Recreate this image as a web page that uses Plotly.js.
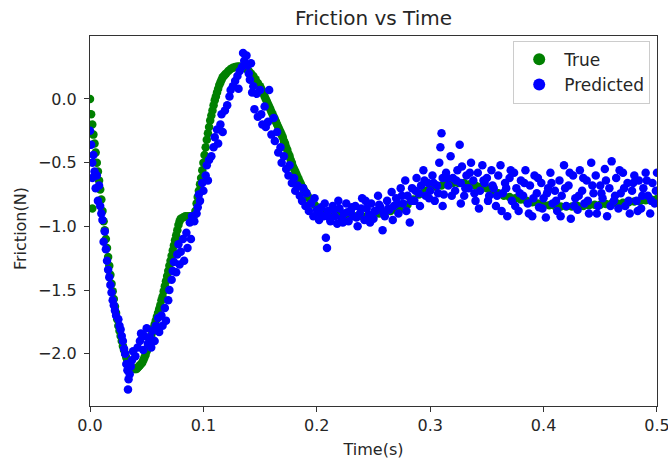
<!DOCTYPE html>
<html>
<head>
<meta charset="utf-8">
<script src="https://cdn.plot.ly/plotly-3.0.1.min.js"></script>
<style>
html,body{margin:0;padding:0;background:#fff;}
#chart{width:668px;height:462px;}
</style>
</head>
<body>
<div id="chart"></div>
<script>
// True friction series
const trueTime = [
0.000,0.001,0.002,0.002,0.003,0.004,0.005,0.006,0.007,0.008,0.009,0.010,0.011,0.012,0.013,0.014,0.015,0.016,0.017,0.018,0.019,
0.020,0.021,0.022,0.023,0.024,0.025,0.026,0.027,0.028,0.029,0.030,0.031,0.032,0.033,0.034,0.035,0.036,0.037,0.038,0.039,
0.040,0.041,0.042,0.043,0.044,0.045,0.046,0.047,0.048,0.049,0.050,0.051,0.052,0.053,0.054,0.055,0.056,0.057,0.058,0.059,
0.060,0.061,0.062,0.063,0.064,0.065,0.066,0.067,0.068,0.069,0.070,0.071,0.072,0.073,0.074,0.075,0.076,0.077,0.078,0.079,
0.080,0.082,0.084,0.086,0.088,0.090,0.092,0.093,0.094,0.095,0.096,0.097,0.098,0.099,
0.100,0.101,0.102,0.103,0.104,0.105,0.106,0.107,0.108,0.109,0.110,0.111,0.112,0.113,0.114,0.115,0.116,0.117,0.118,0.119,
0.120,0.122,0.124,0.126,0.128,0.130,0.132,0.134,0.136,0.138,0.140,0.142,0.144,0.146,0.148,
0.150,0.151,0.152,0.153,0.154,0.155,0.156,0.157,0.158,0.159,0.160,0.161,0.162,0.163,0.164,0.165,0.166,0.167,0.168,0.169,
0.170,0.171,0.172,0.173,0.174,0.175,0.176,0.177,0.178,0.179,0.180,0.181,0.182,0.183,0.184,0.185,0.186,0.187,0.188,0.189,
0.190,0.192,0.194,0.196,0.198,0.200,0.202,0.204,
0.205,0.210,0.215,0.220,0.225,0.230,0.235,0.240,0.245,0.250,0.255,0.260,0.265,0.270,0.275,0.280,0.285,0.290,0.295,
0.300,0.305,0.310,0.315,0.320,0.325,0.330,0.335,0.340,0.345,0.350,0.355,0.360,0.365,0.370,0.375,0.380,0.385,0.390,0.395,
0.400,0.405,0.410,0.415,0.420,0.425,0.430,0.435,0.440,0.445,0.450,0.455,0.460,0.465,0.470,0.475,0.480,0.485,0.490,0.495,0.500
];
const trueFriction = [
0.00,-0.12,-0.86,-0.20,-0.28,-0.35,-0.42,-0.50,-0.57,-0.64,-0.71,-0.79,-0.88,-0.96,-1.03,-1.10,-1.17,-1.24,-1.31,-1.38,-1.45,
-1.51,-1.57,-1.63,-1.68,-1.73,-1.78,-1.82,-1.86,-1.90,-1.94,-1.97,-2.00,-2.03,-2.05,-2.07,-2.09,-2.10,-2.11,-2.12,-2.12,
-2.12,-2.12,-2.11,-2.10,-2.09,-2.08,-2.07,-2.05,-2.03,-2.01,-1.98,-1.95,-1.92,-1.89,-1.86,-1.83,-1.80,-1.77,-1.74,-1.71,
-1.68,-1.65,-1.62,-1.58,-1.55,-1.51,-1.47,-1.43,-1.39,-1.35,-1.31,-1.27,-1.23,-1.19,-1.15,-1.11,-1.07,-1.03,-0.99,-0.96,
-0.94,-0.93,-0.92,-0.92,-0.92,-0.92,-0.91,-0.88,-0.82,-0.77,-0.72,-0.67,-0.62,-0.56,
-0.50,-0.44,-0.38,-0.32,-0.27,-0.22,-0.17,-0.13,-0.09,-0.05,-0.01,0.02,0.05,0.08,0.11,0.13,0.15,0.17,0.18,0.19,
0.20,0.22,0.235,0.245,0.25,0.255,0.255,0.25,0.245,0.235,0.22,0.20,0.18,0.155,0.125,
0.10,0.08,0.06,0.04,0.02,0.00,-0.02,-0.04,-0.06,-0.08,-0.10,-0.12,-0.14,-0.16,-0.18,-0.20,-0.22,-0.24,-0.26,-0.28,
-0.30,-0.33,-0.35,-0.38,-0.40,-0.43,-0.45,-0.48,-0.50,-0.53,-0.55,-0.57,-0.59,-0.61,-0.63,-0.65,-0.67,-0.69,-0.70,-0.72,
-0.73,-0.76,-0.79,-0.81,-0.83,-0.85,-0.86,-0.87,
-0.88,-0.89,-0.90,-0.91,-0.915,-0.92,-0.92,-0.92,-0.915,-0.91,-0.90,-0.89,-0.88,-0.87,-0.86,-0.83,-0.79,-0.75,-0.72,
-0.70,-0.69,-0.68,-0.67,-0.66,-0.66,-0.66,-0.67,-0.68,-0.69,-0.70,-0.72,-0.74,-0.76,-0.77,-0.78,-0.79,-0.80,-0.81,-0.82,
-0.83,-0.835,-0.84,-0.845,-0.845,-0.845,-0.84,-0.84,-0.835,-0.83,-0.83,-0.825,-0.82,-0.82,-0.815,-0.81,-0.805,-0.80,-0.795,-0.79,-0.785
];

// Predicted friction series
const predTime = [
0.000,0.001,0.002,0.002,0.003,0.004,0.005,0.006,0.007,0.008,0.009,0.010,0.011,0.012,0.013,0.014,0.015,0.016,0.017,0.018,0.019,
0.020,0.021,0.022,0.023,0.025,0.026,0.027,0.028,0.029,0.030,0.031,0.032,0.033,0.034,0.0335,0.035,0.036,0.037,0.038,
0.040,0.042,0.044,0.045,0.047,0.048,0.050,0.051,0.053,0.054,0.055,0.057,0.058,
0.060,0.061,0.063,0.064,0.066,0.067,0.069,0.070,0.072,0.073,0.074,0.076,0.077,0.078,0.079,
0.080,0.082,0.083,0.085,0.086,0.088,0.089,0.090,0.092,0.094,0.095,0.096,0.097,0.099,
0.100,0.102,0.103,0.104,0.105,0.107,0.109,0.110,0.112,0.113,0.115,0.116,0.117,0.119,
0.121,0.123,0.124,0.126,0.128,0.130,0.131,0.132,0.134,0.135,0.136,0.138,0.139,
0.140,0.141,0.142,0.143,0.144,0.145,0.147,0.148,0.150,0.151,0.152,0.154,0.155,0.157,0.158,
0.160,0.162,0.163,0.165,0.166,0.168,0.169,0.171,0.173,0.175,0.176,0.178,
0.180,0.181,0.183,0.185,0.187,0.188,0.190,0.191,0.193,0.195,0.197,0.198,
0.200,0.202,0.204,0.206,0.208,0.209,0.210,0.212,0.214,0.216,0.218,
0.220,0.222,0.224,0.226,0.228,0.230,0.232,0.234,0.236,0.238,
0.240,0.242,0.244,0.246,0.248,0.250,0.252,0.254,0.256,0.258,
0.260,0.262,0.264,0.266,0.268,0.270,0.272,0.274,0.276,0.278,
0.280,0.282,0.284,0.286,0.288,0.290,0.292,0.294,0.296,0.298,
0.300,0.302,0.304,0.306,0.308,0.309,0.310,0.311,0.312,0.314,0.316,0.318,
0.320,0.322,0.324,0.326,0.327,0.328,0.330,0.332,0.334,0.336,0.338,
0.340,0.342,0.344,0.346,0.348,0.350,0.352,0.354,0.356,0.358,
0.360,0.362,0.364,0.366,0.368,0.370,0.372,0.374,0.376,0.378,
0.380,0.382,0.384,0.386,0.388,0.390,0.392,0.394,0.396,0.398,
0.400,0.402,0.404,0.406,0.408,0.410,0.412,0.414,0.416,0.418,
0.420,0.422,0.424,0.426,0.428,0.430,0.432,0.434,0.436,0.438,
0.440,0.442,0.444,0.446,0.448,0.450,0.452,0.454,0.456,0.458,
0.460,0.462,0.464,0.466,0.468,0.470,0.472,0.474,0.476,0.478,
0.480,0.482,0.484,0.486,0.488,0.490,0.492,0.494,0.496,0.498,0.500,
0.203,0.207,0.211,0.215,0.219,0.223,0.227,0.231,0.235,0.239,
0.243,0.247,0.251,0.255,0.259,0.263,0.267,0.271,0.275,0.279,
0.283,0.287,0.291,0.295,0.299,0.303,0.307,0.311,0.315,0.319,
0.323,0.327,0.331,0.335,0.339,0.343,0.347,0.351,0.355,0.359,
0.363,0.367,0.371,0.375,0.379,0.383,0.387,0.391,0.395,0.399,
0.403,0.407,0.411,0.415,0.419,0.423,0.427,0.431,0.435,0.439,
0.443,0.447,0.451,0.455,0.459,0.463,0.467,0.471,0.475,0.479,
0.483,0.487,0.491,0.495,0.499
];
const predFriction = [
-0.25,-0.36,-0.50,-0.62,-0.44,-0.57,-0.70,-0.60,-0.80,-0.68,-0.84,-0.90,-0.95,-1.12,-1.04,-1.18,-1.27,-1.34,-1.40,-1.46,-1.52,
-1.58,-1.62,-1.66,-1.70,-1.73,-1.78,-1.81,-1.86,-1.90,-1.96,-2.00,-2.08,-2.13,-2.20,-2.28,-2.16,-2.10,-2.05,-1.98,
-2.02,-1.95,-1.90,-1.84,-1.97,-1.86,-1.80,-1.92,-1.87,-1.95,-1.82,-1.90,-1.78,
-1.72,-1.83,-1.70,-1.78,-1.64,-1.74,-1.58,-1.50,-1.42,-1.35,-1.28,-1.36,-1.22,-1.14,-1.30,
-1.20,-1.10,-1.27,-1.05,-1.17,-0.97,-1.10,-0.92,-0.96,-0.90,-0.85,-0.75,-0.80,-0.66,
-0.72,-0.60,-0.52,-0.64,-0.48,-0.45,-0.38,-0.30,-0.24,-0.35,-0.20,-0.12,-0.26,-0.09,
-0.05,0.02,0.07,0.10,0.14,0.18,0.08,0.22,0.25,0.36,0.30,0.34,0.26,
0.20,0.15,0.28,0.05,0.10,-0.08,0.04,-0.14,0.07,-0.12,-0.20,-0.06,-0.22,-0.18,0.07,
-0.28,-0.15,-0.33,-0.26,-0.42,-0.38,-0.50,-0.45,-0.55,-0.60,-0.52,-0.66,
-0.62,-0.72,-0.68,-0.76,-0.80,-0.70,-0.84,-0.74,-0.88,-0.82,-0.92,-0.78,
-0.87,-0.95,-0.85,-0.92,-1.09,-1.17,-0.88,-0.96,-0.84,-0.92,-0.98,
-0.86,-0.94,-0.90,-0.82,-0.96,-0.88,-0.92,-0.84,-1.00,-0.90,
-0.78,-0.95,-0.86,-0.91,-0.82,-0.94,-0.88,-0.76,-0.85,-1.03,
-0.92,-0.80,-0.87,-0.73,-0.84,-0.78,-0.90,-0.70,-0.82,-0.64,
-0.76,-0.97,-0.70,-0.80,-0.62,-0.74,-0.68,-0.56,-0.76,-0.66,
-0.72,-0.60,-0.80,-0.68,-0.50,-0.38,-0.27,-0.62,-0.75,-0.58,-0.68,-0.45,
-0.62,-0.72,-0.56,-0.36,-0.66,-0.53,-0.76,-0.60,-0.70,-0.50,-0.64,
-0.80,-0.58,-0.72,-0.52,-0.66,-0.62,-0.76,-0.56,-0.70,-0.84,
-0.60,-0.52,-0.74,-0.66,-0.92,-0.62,-0.80,-0.58,-0.70,-0.88,
-0.64,-0.76,-0.56,-0.82,-0.68,-0.92,-0.60,-0.74,-0.85,-0.66,
-0.78,-0.93,-0.70,-0.58,-0.82,-0.72,-0.88,-0.64,-0.76,-0.52,
-0.84,-0.68,-0.94,-0.60,-0.78,-0.87,-0.56,-0.72,-0.82,-0.64,
-0.90,-0.50,-0.74,-0.60,-0.84,-0.68,-0.78,-0.55,-0.92,-0.70,
-0.49,-0.80,-0.62,-0.86,-0.74,-0.58,-0.84,-0.66,-0.90,-0.72,
-0.60,-0.80,-0.64,-0.86,-0.70,-0.58,-0.76,-0.90,-0.66,-0.82,-0.58,
-0.90,-0.82,-0.93,-0.87,-0.80,-0.97,-0.89,-0.85,-0.93,-0.86,
-0.80,-0.97,-0.88,-0.83,-0.90,-0.86,-0.95,-0.82,-0.76,-0.88,
-0.80,-0.72,-0.84,-0.64,-0.78,-0.66,-0.74,-0.84,-0.62,-0.76,
-0.64,-0.82,-0.70,-0.58,-0.74,-0.86,-0.64,-0.80,-0.68,-0.76,
-0.88,-0.70,-0.56,-0.84,-0.74,-0.66,-0.90,-0.78,-0.62,-0.86,
-0.74,-0.66,-0.80,-0.92,-0.70,-0.58,-0.84,-0.76,-0.62,-0.80,
-0.68,-0.90,-0.74,-0.64,-0.84,-0.76,-0.56,-0.70,-0.80,-0.66,
-0.88,-0.76,-0.64,-0.80,-0.72
];

const xTicks = [0.0, 0.1, 0.2, 0.3, 0.4, 0.5];
const yTicks = [-2.0, -1.5, -1.0, -0.5, 0.0];

const font = 'DejaVu Sans, sans-serif';
const axisColor = '#333333';
const textColor = '#262626';

const traces = [
  {
    type: 'scatter', mode: 'markers', name: 'True',
    x: trueTime, y: trueFriction,
    marker: {color: 'green', size: 8.5, line: {width: 0}}
  },
  {
    type: 'scatter', mode: 'markers', name: 'Predicted',
    x: predTime, y: predFriction,
    marker: {color: 'blue', size: 8.5, line: {width: 0}}
  }
];

const layout = {
  width: 668, height: 462,
  margin: {l: 90, r: 11, t: 36, b: 56, pad: 0},
  paper_bgcolor: '#ffffff', plot_bgcolor: '#ffffff',
  font: {family: font, size: 16, color: textColor},
  title: {
    text: 'Friction vs Time',
    font: {family: font, size: 20, color: textColor},
    x: 0.5, xref: 'paper', xanchor: 'center',
    y: 0.961, yref: 'container', yanchor: 'middle'
  },
  xaxis: {
    range: [0, 0.50001],
    tickvals: xTicks, ticktext: xTicks.map(v => v.toFixed(1)),
    ticks: 'outside', ticklen: 5, tickwidth: 1, tickcolor: axisColor,
    ticklabeloverflow: 'allow',
    showline: true, linecolor: axisColor, linewidth: 1, mirror: true,
    showgrid: false, zeroline: false,
    tickfont: {family: font, size: 16, color: textColor},
    title: {text: 'Time(s)', font: {family: font, size: 16, color: textColor}, standoff: 9},
    automargin: false
  },
  yaxis: {
    range: [-2.41, 0.494],
    tickvals: yTicks, ticktext: yTicks.map(v => (v < 0 ? '\u2212' : '') + Math.abs(v).toFixed(1)),
    ticks: 'outside', ticklen: 5, tickwidth: 1, tickcolor: axisColor,
    ticklabelstandoff: 4,
    showline: true, linecolor: axisColor, linewidth: 1, mirror: true,
    showgrid: false, zeroline: false,
    tickfont: {family: font, size: 16, color: textColor},
    automargin: false
  },
  annotations: [{
    text: 'Friction(N)', textangle: -90,
    xref: 'paper', yref: 'paper',
    x: -70 / 567, y: (406 - 229) / 370,
    xanchor: 'center', yanchor: 'middle', showarrow: false,
    font: {family: font, size: 16, color: textColor}
  }],
  legend: {
    x: 0.988, xanchor: 'right', y: 0.987, yanchor: 'top',
    bgcolor: 'rgba(255,255,255,0.8)', bordercolor: '#cccccc', borderwidth: 1,
    font: {family: font, size: 17, color: textColor},
    itemsizing: 'constant', itemwidth: 40
  },
  showlegend: true
};

Plotly.newPlot('chart', traces, layout, {displayModeBar: false, staticPlot: true});
</script>
</body>
</html>
